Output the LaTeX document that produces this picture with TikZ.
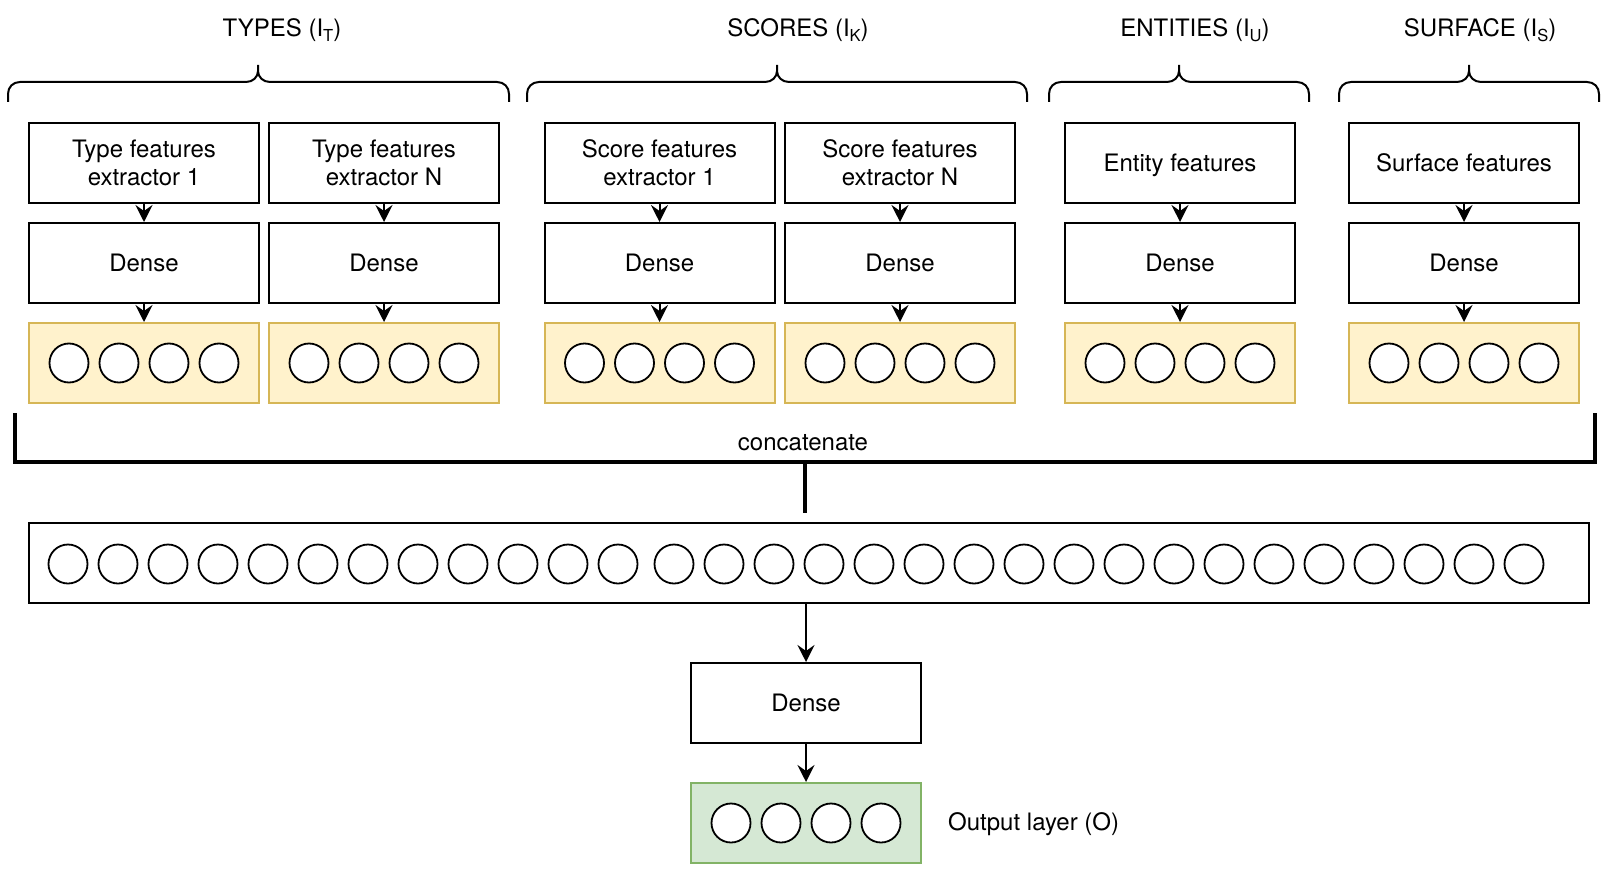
\documentclass[tikz,border=0pt]{standalone}
\usepackage{fontspec}
\setmainfont{TeX Gyre Heros}
\usetikzlibrary{arrows.meta}
\definecolor{yfill}{HTML}{FFF2CC}
\definecolor{ydraw}{HTML}{D6B656}
\definecolor{gfill}{HTML}{D5E8D4}
\definecolor{gdraw}{HTML}{82B366}
\newcommand{\lsub}[1]{\raisebox{-5pt}{\fontsize{16.5}{16.5}\selectfont #1}}
\newcommand{\curly}[3]{%
  \draw[brc] (#1,102) -- (#1,94) .. controls (#1,87) and ({#1+5},82) .. ({#1+12},82)
    -- ({#2-12},82) .. controls ({#2-5},82) and (#2,77) .. (#2,71) -- (#2,65)
    (#2,71) .. controls (#2,77) and ({#2+5},82) .. ({#2+12},82)
    -- ({#3-12},82) .. controls ({#3-5},82) and (#3,87) .. (#3,94) -- (#3,102);}
\begin{document}
\begin{tikzpicture}[x=1pt,y=-1pt,
  box/.style={draw=black,line width=2pt,minimum width=230pt,minimum height=80pt,inner sep=0pt,align=center,font=\fontsize{24}{28}\selectfont},
  ybox/.style={box,fill=yfill,draw=ydraw},
  gbox/.style={box,fill=gfill,draw=gdraw},
  neuron/.style={circle,draw=black,fill=white,line width=1.8pt,minimum size=39pt,inner sep=0pt},
  arr/.style={line width=2pt,-{Stealth[length=17pt,width=17pt,inset=6pt]}},
  brc/.style={line width=2pt,line join=round},
  lbl/.style={font=\fontsize{24}{28}\selectfont,inner sep=0pt},
  bracket/.style={line width=4pt,line join=miter}]
\useasboundingbox (0,0) rectangle (1608,872);

% titles
\node[lbl,anchor=base] (ttypes) at (282,37) {TYPES (I\lsub{T})};
\node[lbl,anchor=base] (tscores) at (798,37) {SCORES (I\lsub{K})};
\node[lbl,anchor=base] (tent) at (1195,37) {ENTITIES (I\lsub{U})};
\node[lbl,anchor=base] (tsurf) at (1480,37) {SURFACE (I\lsub{S})};

% braces
\curly{8}{258}{509}
\curly{527}{777}{1027}
\curly{1049}{1179}{1309}
\curly{1339}{1469}{1599}

% feature extractor boxes
\node[box] (a-f) at (144,163) {Type features\\extractor 1};
\node[box] (b-f) at (384,163) {Type features\\extractor N};
\node[box] (c-f) at (659.5,163) {Score features\\extractor 1};
\node[box] (d-f) at (900,163) {Score features\\extractor N};
\node[box,text depth=0pt] (e-f) at (1180,163) {Entity features};
\node[box,text depth=0pt] (f-f) at (1464,163) {Surface features};

\foreach \cx/\n in {144/a,384/b,659.5/c,900/d,1180/e,1464/f} {
  \node[box,text depth=0pt] (\n-d) at (\cx,263) {Dense};
  \node[ybox] (\n-o) at (\cx,363) {};
  \foreach \k in {1,...,4} \node[neuron] (\n-o\k) at ({\cx+50*\k-125},363) {};
  \draw[arr] (\n-f) -- (\n-d);
  \draw[arr] (\n-d) -- (\n-o);
}

% concatenate bracket
\coordinate (cl) at (15,413);
\coordinate (cr) at (1595,413);
\coordinate (cm) at (805,462);
\coordinate (cs) at (805,513);
\draw[bracket] (cl) -- (cl |- cm) -- (cr |- cm) -- (cr);
\draw[bracket] (cm) -- (cs);
\node[lbl,anchor=base] (conc) at (803,450) {concatenate};

% concatenated layer
\node[box,minimum width=1560pt] (big) at (809,563) {};
\foreach \k in {0,...,11} \node[neuron] (bn\k) at ({68+50*\k},564) {};
\foreach \k in {0,...,17} \node[neuron] (bm\k) at ({674+50*\k},564) {};

% final dense and output
\node[box,text depth=0pt] (dn) at (806,703) {Dense};
\node[gbox] (out) at (806,823) {};
\foreach \k in {0,...,3} \node[neuron] (on\k) at ({731+50*\k},823) {};
\draw[arr] (big.south -| dn.north) -- (dn.north);
\draw[arr] (dn) -- (out);
\node[lbl,anchor=base west] (outl) at (948,830) {Output layer (O)};
\end{tikzpicture}
\end{document}
